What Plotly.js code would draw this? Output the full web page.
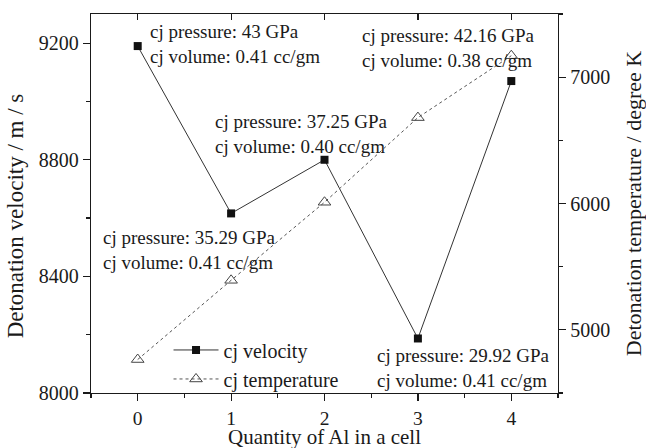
<!DOCTYPE html>
<html>
<head>
<meta charset="utf-8">
<script src="https://cdn.plot.ly/plotly-3.0.1.min.js"></script>
<style>
  html, body { margin: 0; padding: 0; background: #fff; }
  #chart { width: 646px; height: 448px; }
</style>
</head>
<body>
<div id="chart"></div>
<script>
// Number of Al atoms per cell
const alCount = [0, 1, 2, 3, 4];
// CJ detonation velocity (m/s)
const cjVelocity = [9190, 8616, 8800, 8187, 9070];
// CJ detonation temperature (K)
const cjTemperature = [4765, 5392, 6010, 6680, 7170];
// CJ state labels
const cjPressure = ['43', '35.29', '37.25', '29.92', '42.16'];
const cjVolume = ['0.41', '0.41', '0.40', '0.41', '0.38'];

const FONT = '"Liberation Serif", "Times New Roman", Times, serif';
const INK = '#1a1a1a';

const velocityTrace = {
  x: alCount, y: cjVelocity, name: 'cj velocity',
  type: 'scatter', mode: 'lines+markers',
  line: { color: '#333', width: 1 },
  marker: { symbol: 'square', size: 8, color: '#111' },
  xaxis: 'x', yaxis: 'y'
};

const temperatureTrace = {
  x: alCount, y: cjTemperature, name: 'cj temperature',
  type: 'scatter', mode: 'lines+markers',
  line: { color: '#555', width: 1, dash: '3px,3px' },
  marker: { symbol: 'triangle-up-open', size: 11, color: '#444', line: { width: 1 } },
  xaxis: 'x2', yaxis: 'y2'
};

// label placement relative to each velocity point (pixels)
const labelShift = [[10, 2], [-130, -37], [-112, 26], [-43, -29.5], [-151, 33]];

const annotations = alCount.map((a, i) => ({
  x: a, y: cjVelocity[i], xref: 'x', yref: 'y',
  text: 'cj pressure: ' + cjPressure[i] + ' GPa<br>cj volume: ' + cjVolume[i] + ' cc/gm',
  showarrow: false, xanchor: 'left', yanchor: 'middle', align: 'left',
  xshift: labelShift[i][0], yshift: labelShift[i][1],
  font: { family: FONT, size: 19, color: INK }
}));

// axis titles drawn as free text so they can sit close to the tick labels
annotations.push({
  xref: 'paper', yref: 'paper', x: -0.162, y: 0.467,
  text: 'Detonation velocity / m / s', textangle: -90,
  showarrow: false, xanchor: 'center', yanchor: 'middle',
  font: { family: FONT, size: 23, color: INK }
});
annotations.push({
  xref: 'paper', yref: 'paper', x: 0.5, y: 0, yshift: -43.5,
  text: 'Quantity of Al in a cell',
  showarrow: false, xanchor: 'center', yanchor: 'middle',
  font: { family: FONT, size: 21, color: INK }
});

const axisCommon = {
  showgrid: false, zeroline: false, showline: true,
  linecolor: INK, linewidth: 1.2, tickcolor: INK, tickwidth: 1.2,
  tickfont: { family: FONT, size: 20, color: INK }
};

const layout = {
  width: 646, height: 448,
  margin: { l: 91, r: 88, t: 14, b: 55 },
  paper_bgcolor: '#fff', plot_bgcolor: '#fff',
  font: { family: FONT, color: INK },
  showlegend: true,
  legend: {
    x: 0.166, y: 0.165, xanchor: 'left', yanchor: 'top',
    bgcolor: 'rgba(0,0,0,0)', font: { family: FONT, size: 20, color: INK },
    tracegroupgap: 0, itemwidth: 45
  },
  xaxis: Object.assign({}, axisCommon, {
    range: [-0.5, 4.5], tick0: 0, dtick: 1,
    ticks: 'outside', ticklen: 7,
    tickfont: { family: FONT, size: 19.5, color: INK },
    minor: { ticks: 'outside', ticklen: 4, dtick: 0.5, tickcolor: INK, tickwidth: 1.2 }
  }),
  xaxis2: Object.assign({}, axisCommon, {
    range: [-0.5, 4.5], tick0: 0, dtick: 1, overlaying: 'x', side: 'top',
    ticks: 'inside', ticklen: 6, showticklabels: false
  }),
  yaxis: Object.assign({}, axisCommon, {
    range: [8000, 9300], tick0: 8000, dtick: 400,
    ticks: 'outside', ticklen: 7,
    minor: { ticks: 'outside', ticklen: 4, dtick: 200, tickcolor: INK, tickwidth: 1.2 }
  }),
  yaxis2: Object.assign({}, axisCommon, {
    range: [4500, 7500], tick0: 5000, dtick: 1000, overlaying: 'y', side: 'right',
    ticks: 'outside', ticklen: 7,
    minor: { ticks: 'outside', ticklen: 4, dtick: 500, tickcolor: INK, tickwidth: 1.2 },
    title: { text: 'Detonation temperature / degree K', font: { family: FONT, size: 22, color: INK }, standoff: 16 }
  }),
  annotations: annotations
};

Plotly.newPlot('chart', [velocityTrace, temperatureTrace], layout, { displayModeBar: false, staticPlot: true });
</script>
</body>
</html>
